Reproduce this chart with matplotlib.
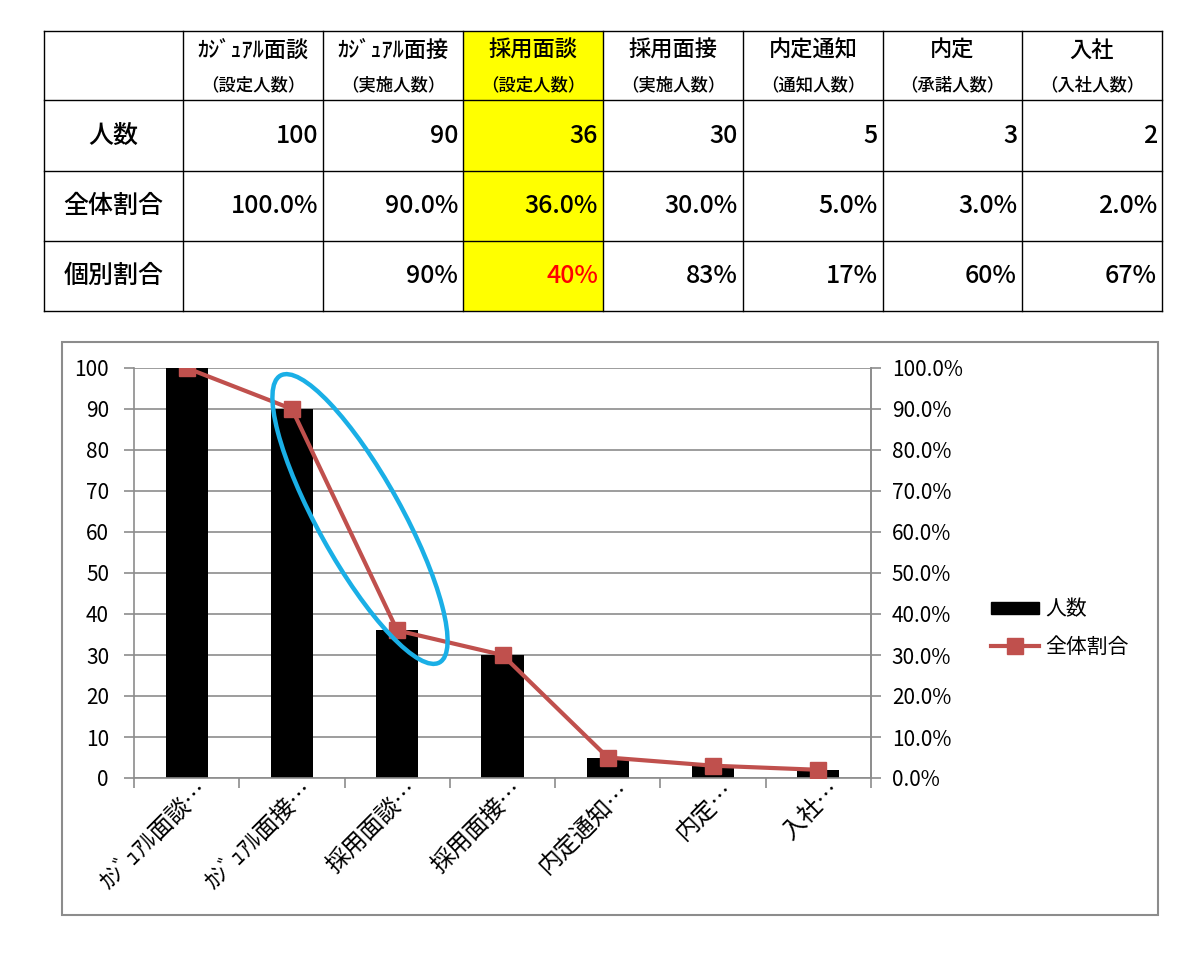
import matplotlib
matplotlib.use("Agg")
import matplotlib.pyplot as plt
from matplotlib.patches import Rectangle, Ellipse, Patch
from matplotlib.lines import Line2D
import numpy as np

plt.rcParams['font.family'] = ['Noto Sans CJK JP', 'DejaVu Sans']

# ---------------- data ----------------
stages = ['ｶｼﾞｭｱﾙ面談', 'ｶｼﾞｭｱﾙ面接', '採用面談', '採用面接', '内定通知', '内定', '入社']
sub_labels = ['（設定人数）', '（実施人数）', '（設定人数）', '（実施人数）', '（通知人数）', '（承諾人数）', '（入社人数）']
tick_labels = ['ｶｼﾞｭｱﾙ面談…', 'ｶｼﾞｭｱﾙ面接…', '採用面談…', '採用面接…', '内定通知…', '内定…', '入社…']
counts = [100, 90, 36, 30, 5, 3, 2]
overall_pct = [100.0, 90.0, 36.0, 30.0, 5.0, 3.0, 2.0]
individual_pct = [None, 90, 40, 83, 17, 60, 67]
row_labels = ['人数', '全体割合', '個別割合']
highlight_col = 2

W, H = 1200, 958
fig = plt.figure(figsize=(W / 100, H / 100), dpi=100)

# ---------------- chart ----------------
L, R, T, B = 134, 871, 368, 778
ax = fig.add_axes([L / W, 1 - B / H, (R - L) / W, (B - T) / H])
x = np.arange(len(stages))
ax.bar(x, counts, width=0.40, color='black', zorder=2)
ax.set_xlim(-0.5, len(stages) - 0.5)
ax.set_ylim(0, 100)
ax.set_yticks(np.arange(0, 101, 10))
ax.yaxis.grid(True, color='#8c8c8c', lw=1.2, zorder=0)
ax.set_axisbelow(True)
ax.set_xticks(x + 0.09)
ax.set_xticklabels(tick_labels, rotation=45, ha='right', va='top',
                   rotation_mode='anchor', fontsize=17)
ax.set_xticks(np.arange(-0.5, len(stages), 1.0), minor=True)
ax.tick_params(axis='x', which='major', length=0, pad=0)
ax.tick_params(axis='x', which='minor', length=7, color='#8c8c8c', width=1.2)
ax.tick_params(axis='y', length=7, color='#8c8c8c', width=1.2, labelsize=15, pad=11)
ax.spines['top'].set_visible(False)
for s in ['left', 'bottom', 'right']:
    ax.spines[s].set_color('#8c8c8c')
    ax.spines[s].set_linewidth(1.2)

ax2 = ax.twinx()
ax2.plot(x, overall_pct, color='#C0504D', lw=3, marker='s', markersize=11, zorder=3)
ax2.set_ylim(0, 100)
ax2.set_yticks(np.arange(0, 101, 10))
ax2.set_yticklabels([f'{v:.1f}%' for v in np.arange(0, 101, 10)])
ax2.tick_params(axis='y', length=7, color='#8c8c8c', width=1.2, labelsize=15, pad=8)
for s in ['top', 'left', 'bottom']:
    ax2.spines[s].set_visible(False)
ax2.spines['right'].set_color('#8c8c8c')
ax2.spines['right'].set_linewidth(1.2)

handles = [Patch(facecolor='black', edgecolor='black'),
           Line2D([0], [0], color='#C0504D', lw=3, marker='s', markersize=11)]
fig.legend(handles, [row_labels[0], row_labels[1]], loc='center left',
           bbox_to_anchor=(972 / W, 1 - 628 / H), frameon=False, fontsize=15,
           handlelength=2.3, handleheight=0.55, labelspacing=0.75, handletextpad=0.3)

# ---------------- overlay (table, frame, ellipse) ----------------
ov = fig.add_axes([0, 0, 1, 1])
ov.set_xlim(0, W)
ov.set_ylim(H, 0)
ov.axis('off')
ov.patch.set_alpha(0)

# chart frame
ov.add_patch(Rectangle((62, 342), 1158 - 62, 915 - 342, fill=False,
                       edgecolor='#8c8c8c', lw=1.5))

# ellipse annotation
ov.add_patch(Ellipse((360, 519), 328, 84, angle=61, fill=False,
                     edgecolor='#1AAFE6', lw=3.2, zorder=10))

# table
col_x = [44, 183, 323, 463, 603, 743, 883, 1022, 1162]
row_y = [31, 100, 171, 241, 311]
ov.add_patch(Rectangle((col_x[highlight_col + 1], row_y[0]),
                       col_x[highlight_col + 2] - col_x[highlight_col + 1],
                       row_y[-1] - row_y[0], facecolor='#FFFF00', edgecolor='none'))
for cx in col_x:
    ov.plot([cx, cx], [row_y[0], row_y[-1]], color='black', lw=1)
for ry in row_y:
    ov.plot([col_x[0], col_x[-1]], [ry, ry], color='black', lw=1)

for i, (name, sub) in enumerate(zip(stages, sub_labels)):
    cxm = (col_x[i + 1] + col_x[i + 2]) / 2
    ov.text(cxm, 50, name, ha='center', va='center', fontsize=16, weight='medium')
    ov.text(cxm, 85, sub, ha='center', va='center', fontsize=12.5, weight='medium')

for r, lab in enumerate(row_labels):
    cy = (row_y[r + 1] + row_y[r + 2]) / 2
    ov.text((col_x[0] + col_x[1]) / 2, cy, lab, ha='center', va='center',
            fontsize=18, weight='medium')

for i in range(len(stages)):
    xr = col_x[i + 2] - 5
    cy1 = (row_y[1] + row_y[2]) / 2
    cy2 = (row_y[2] + row_y[3]) / 2
    cy3 = (row_y[3] + row_y[4]) / 2
    ov.text(xr, cy1, f'{counts[i]}', ha='right', va='center', fontsize=18, weight='medium')
    ov.text(xr, cy2, f'{overall_pct[i]:.1f}%', ha='right', va='center', fontsize=18, weight='medium')
    if individual_pct[i] is not None:
        col = '#FF0000' if i == highlight_col else 'black'
        ov.text(xr, cy3, f'{individual_pct[i]}%', ha='right', va='center',
                fontsize=18, weight='medium', color=col)

fig.savefig('out.png', dpi=100)
